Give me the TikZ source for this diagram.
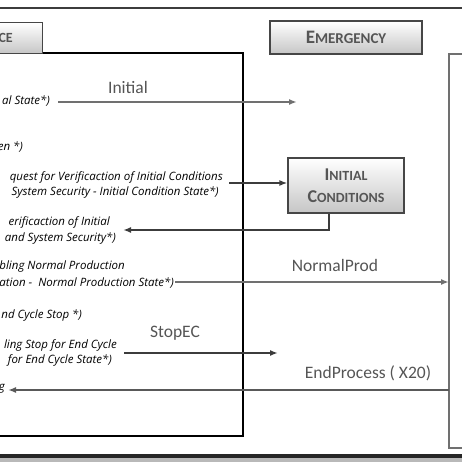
\documentclass[tikz,border=0pt]{standalone}
\usepackage{fontspec}
\setmainfont{Carlito}
\newfontfamily\notefont{Open Sans}
\usetikzlibrary{arrows.meta}
\definecolor{linegray}{HTML}{707070}
\definecolor{darkline}{HTML}{3C3C3C}
\definecolor{labelgray}{HTML}{555555}
\newcommand{\capsmall}[1]{{\fontsize{14}{16}\selectfont #1}}
\tikzset{
  note/.style={anchor=east,inner sep=0pt,font=\notefont\itshape\fontsize{11.5}{13}\selectfont},
  msg/.style={font=\fontsize{17.5}{20}\selectfont,text=labelgray},
  button/.style={draw=gray!55!black,line width=1.2pt,top color=white,bottom color=gray!45,
    font=\bfseries\fontsize{18}{20}\selectfont,text=labelgray},
  grayarrow/.style={draw=linegray,line width=1.7pt,-{Latex[length=8pt,width=6pt]}},
  darkarrow/.style={draw=darkline,line width=1.6pt,-{Latex[length=8pt,width=6pt]}},
}
\begin{document}
\begin{tikzpicture}[x=1pt,y=-1pt]
\useasboundingbox (0,0) rectangle (462,462);
% frame
\draw[line width=2.5pt,darkline] (-5,8) -- (467,8);
\fill[gray!55] (-5,456) rectangle (467,467);
\draw[line width=3.5pt,black!85] (-5,456) -- (467,456);
% the two lanes
\draw[line width=1.3pt] (-10,53) rectangle (243,436);
\draw[linegray,line width=1.3pt] (449,54) rectangle (475,448);
\coordinate (rbtl) at (449,54);
% buttons
\node[button,anchor=north east,minimum width=100pt,minimum height=31pt] (source) at (43,22) {};
\node[anchor=east,inner sep=0pt,font=\bfseries,text=labelgray] (sourcelbl) at (13,38) {\capsmall{CE}};
\node[button,minimum width=152pt,minimum height=33pt] (emerg) at (346,37.5) {\fontsize{19}{20}\selectfont E{\fontsize{15}{16}\selectfont MERGENCY}};
\node[button,minimum width=116pt,minimum height=55pt,align=center] (initc) at (346,185.5)
  {I\capsmall{NITIAL}\\[2pt]C\capsmall{ONDITIONS}};
% notes in the left lane
\node[note] (n1) at (50,101) {al State*)};
\node[note] (n2) at (23,147) {en *)};
\node[note] (n3) at (223,177) {quest for Verificaction of Initial Conditions};
\node[note] (n4) at (219,192) {System Security - Initial Condition State*)};
\node[note] (n5) at (110,222) {erificaction of Initial};
\node[note] (n6) at (116,238) {and System Security*)};
\node[note] (n7) at (125,267) {abling Normal Production};
\node[note] (n8) at (174,283) {ation -\ \ Normal Production State*)};
\node[note] (n9) at (82,315) {nd Cycle Stop *)};
\node[note] (n10) at (117,345) {ling Stop for End Cycle};
\node[note] (n11) at (112,360) {for End Cycle State*)};
\node[note] (n12) at (5,389) {g};
% messages
\coordinate (initS) at (58,102);
\coordinate (initE) at (297,102);
\draw[grayarrow] (initS) -- (initE);
\node[msg] (initlbl) at (128,87) {Initial};
\coordinate (reqS) at (229,183);
\draw[darkarrow] (reqS) -- (reqS -| initc.west);
\coordinate (retE) at (123,230);
\draw[darkarrow] ([xshift=-17pt]initc.south) |- (retE);
\coordinate (normS) at (175,282);
\draw[grayarrow] (normS) -- (normS -| rbtl);
\node[msg] (normlbl) at (335,265) {NormalProd};
\coordinate (stopS) at (124,353);
\coordinate (stopE) at (278,353);
\draw[darkarrow] (stopS) -- (stopE);
\node[msg] (stoplbl) at (175,333) {StopEC};
\coordinate (endE) at (8,390);
\draw[darkarrow,draw=darkline!85!white] (endE -| rbtl) -- (endE);
\node[msg] (endlbl) at (368,373) {EndProcess ( X20)};
\end{tikzpicture}
\end{document}
